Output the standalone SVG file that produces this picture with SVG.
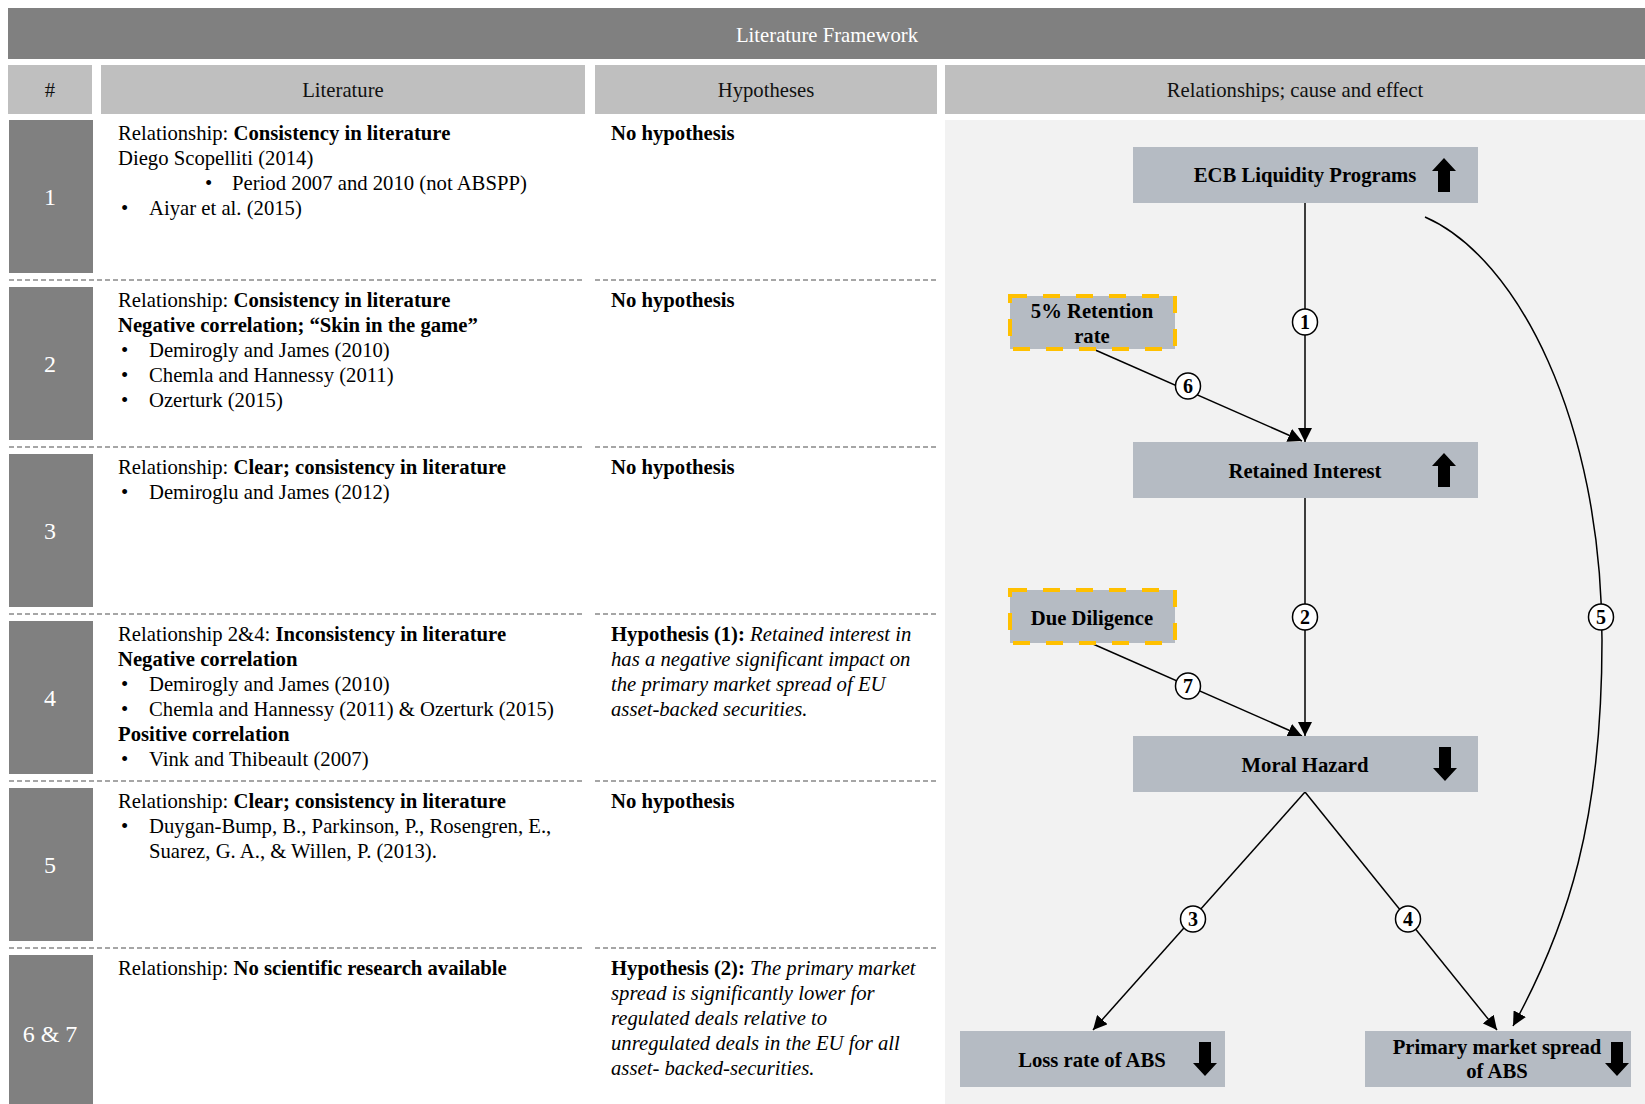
<svg xmlns="http://www.w3.org/2000/svg" width="1645" height="1104" viewBox="0 0 1645 1104">
<style>
  text { font-family: "Liberation Serif", "Times New Roman", serif; font-size: 20.7px; fill: #000; }
  .b { font-weight: bold; }
  .i { font-style: italic; }
  .title { fill: #ffffff; text-anchor: middle; }
  .hdr { text-anchor: middle; fill: #111; }
  .num { fill: #ffffff; text-anchor: middle; font-size: 24px; }
  .hcell { fill: #bfbfbf; }
  .ncell { fill: #808080; }
  .sep { stroke: #a6a6a6; stroke-width: 2; stroke-dasharray: 5 3; fill: none; }
  .node { fill: #b5bbc3; }
  .dashed { fill: #b5bbc3; stroke: #ffc000; stroke-width: 4; stroke-dasharray: 17 16; }
  .ntext { font-weight: bold; text-anchor: middle; }
  .conn { stroke: #000; stroke-width: 1.5; fill: none; }
  .lab { fill: #fff; stroke: #000; stroke-width: 1.5; }
  .labt { font-weight: bold; font-size: 20px; text-anchor: middle; }
</style>
<defs>
  <marker id="ah" markerUnits="userSpaceOnUse" markerWidth="14" markerHeight="14" viewBox="0 0 10 10" refX="10" refY="5" orient="auto">
    <path d="M0,0 L10,5 L0,10 Z" fill="#000"/>
  </marker>
  <path id="up" d="M0,0 L12,13 L6,13 L6,34 L-6,34 L-6,13 L-12,13 Z" fill="#000"/>
  <path id="down" d="M-6,0 L6,0 L6,21 L12,21 L0,34 L-12,21 L-6,21 Z" fill="#000"/>
</defs>
<rect x="0" y="0" width="1645" height="1104" fill="#ffffff"/>

<!-- Title -->
<g id="title">
  <rect x="8" y="8" width="1637" height="51" fill="#808080"/>
  <text class="title" x="827" y="42">Literature Framework</text>
</g>

<!-- Header row -->
<g id="header">
  <rect class="hcell" x="8" y="65" width="84" height="49"/>
  <rect class="hcell" x="101" y="65" width="484" height="49"/>
  <rect class="hcell" x="595" y="65" width="342" height="49"/>
  <rect class="hcell" x="945" y="65" width="700" height="49"/>
  <text class="hdr" x="50" y="97">#</text>
  <text class="hdr" x="343" y="97">Literature</text>
  <text class="hdr" x="766" y="97">Hypotheses</text>
  <text class="hdr" x="1295" y="97">Relationships; cause and effect</text>
</g>

<!-- Right panel background -->
<rect x="945" y="120" width="700" height="984" fill="#f2f2f2"/>

<!-- Number cells -->
<g id="numbers">
  <rect class="ncell" x="9" y="120" width="84" height="153"/>
  <rect class="ncell" x="9" y="287" width="84" height="153"/>
  <rect class="ncell" x="9" y="454" width="84" height="153"/>
  <rect class="ncell" x="9" y="621" width="84" height="153"/>
  <rect class="ncell" x="9" y="788" width="84" height="153"/>
  <rect class="ncell" x="9" y="955" width="84" height="149"/>
  <text class="num" x="50" y="205">1</text>
  <text class="num" x="50" y="372">2</text>
  <text class="num" x="50" y="539">3</text>
  <text class="num" x="50" y="706">4</text>
  <text class="num" x="50" y="873">5</text>
  <text class="num" x="50" y="1042">6 &amp; 7</text>
</g>

<!-- Separators -->
<g id="separators">
  <path class="sep" d="M9,280 H585 M595,280 H937 M9,447 H585 M595,447 H937 M9,614 H585 M595,614 H937 M9,781 H585 M595,781 H937 M9,948 H585 M595,948 H937"/>
</g>

<!-- Row 1 -->
<g id="row1">
  <text x="118" y="140">Relationship: <tspan class="b">Consistency in literature</tspan></text>
  <text x="118" y="165">Diego Scopelliti (2014)</text>
  <text x="205" y="190">•</text><text x="232" y="190">Period 2007 and 2010 (not ABSPP)</text>
  <text x="121" y="215">•</text><text x="149" y="215">Aiyar et al. (2015)</text>
  <text class="b" x="611" y="140">No hypothesis</text>
</g>

<!-- Row 2 -->
<g id="row2">
  <text x="118" y="307">Relationship: <tspan class="b">Consistency in literature</tspan></text>
  <text class="b" x="118" y="332">Negative correlation; “Skin in the game”</text>
  <text x="121" y="357">•</text><text x="149" y="357">Demirogly and James (2010)</text>
  <text x="121" y="382">•</text><text x="149" y="382">Chemla and Hannessy (2011)</text>
  <text x="121" y="407">•</text><text x="149" y="407">Ozerturk (2015)</text>
  <text class="b" x="611" y="307">No hypothesis</text>
</g>

<!-- Row 3 -->
<g id="row3">
  <text x="118" y="474">Relationship: <tspan class="b">Clear; consistency in literature</tspan></text>
  <text x="121" y="499">•</text><text x="149" y="499">Demiroglu and James (2012)</text>
  <text class="b" x="611" y="474">No hypothesis</text>
</g>

<!-- Row 4 -->
<g id="row4">
  <text x="118" y="641">Relationship 2&amp;4: <tspan class="b">Inconsistency in literature</tspan></text>
  <text class="b" x="118" y="666">Negative correlation</text>
  <text x="121" y="691">•</text><text x="149" y="691">Demirogly and James (2010)</text>
  <text x="121" y="716">•</text><text x="149" y="716">Chemla and Hannessy (2011) &amp; Ozerturk (2015)</text>
  <text class="b" x="118" y="741">Positive correlation</text>
  <text x="121" y="766">•</text><text x="149" y="766">Vink and Thibeault (2007)</text>
  <text x="611" y="641"><tspan class="b">Hypothesis (1):</tspan> <tspan class="i">Retained interest in</tspan></text>
  <text class="i" x="611" y="666">has a negative significant impact on</text>
  <text class="i" x="611" y="691">the primary market spread of EU</text>
  <text class="i" x="611" y="716">asset-backed securities.</text>
</g>

<!-- Row 5 -->
<g id="row5">
  <text x="118" y="808">Relationship: <tspan class="b">Clear; consistency in literature</tspan></text>
  <text x="121" y="833">•</text><text x="149" y="833">Duygan-Bump, B., Parkinson, P., Rosengren, E.,</text>
  <text x="149" y="858">Suarez, G. A., &amp; Willen, P. (2013).</text>
  <text class="b" x="611" y="808">No hypothesis</text>
</g>

<!-- Row 6 -->
<g id="row6">
  <text x="118" y="975">Relationship: <tspan class="b">No scientific research available</tspan></text>
  <text x="611" y="975"><tspan class="b">Hypothesis (2):</tspan> <tspan class="i">The primary market</tspan></text>
  <text class="i" x="611" y="1000">spread is significantly lower for</text>
  <text class="i" x="611" y="1025">regulated deals relative to</text>
  <text class="i" x="611" y="1050">unregulated deals in the EU for all</text>
  <text class="i" x="611" y="1075">asset- backed-securities.</text>
</g>

<!-- Connectors -->
<g id="connectors">
  <path class="conn" d="M1305,203 L1305,442" marker-end="url(#ah)"/>
  <path class="conn" d="M1305,498 L1305,736" marker-end="url(#ah)"/>
  <path class="conn" d="M1093,349 L1302,441" marker-end="url(#ah)"/>
  <path class="conn" d="M1093,644 L1302,736" marker-end="url(#ah)"/>
  <path class="conn" d="M1305,792 L1093,1030" marker-end="url(#ah)"/>
  <path class="conn" d="M1305,792 L1497,1030" marker-end="url(#ah)"/>
  <path class="conn" d="M1425,217 C1517,257 1602,420 1602,640 C1602,820 1568,926 1513,1026" marker-end="url(#ah)"/>
  <ellipse class="lab" cx="1305" cy="322" rx="12.5" ry="13"/><text class="labt" x="1305" y="329">1</text>
  <ellipse class="lab" cx="1305" cy="617" rx="12.5" ry="13"/><text class="labt" x="1305" y="624">2</text>
  <ellipse class="lab" cx="1193" cy="919" rx="12.5" ry="13"/><text class="labt" x="1193" y="926">3</text>
  <ellipse class="lab" cx="1408" cy="919" rx="12.5" ry="13"/><text class="labt" x="1408" y="926">4</text>
  <ellipse class="lab" cx="1601" cy="617" rx="12.5" ry="13"/><text class="labt" x="1601" y="624">5</text>
  <ellipse class="lab" cx="1188" cy="386" rx="12.5" ry="13"/><text class="labt" x="1188" y="393">6</text>
  <ellipse class="lab" cx="1188" cy="686" rx="12.5" ry="13"/><text class="labt" x="1188" y="693">7</text>
</g>

<!-- Nodes -->
<g id="node-ecb">
  <rect class="node" x="1133" y="147" width="345" height="56"/>
  <text class="ntext" x="1305" y="182">ECB Liquidity Programs</text>
  <use href="#up" x="1444" y="158"/>
</g>
<g id="node-retained">
  <rect class="node" x="1133" y="442" width="345" height="56"/>
  <text class="ntext" x="1305" y="478">Retained Interest</text>
  <use href="#up" x="1444" y="453"/>
</g>
<g id="node-retention">
  <rect class="dashed" x="1010" y="296" width="165" height="53"/>
  <text class="ntext" x="1092" y="318">5% Retention</text>
  <text class="ntext" x="1092" y="343">rate</text>
</g>
<g id="node-due">
  <rect class="dashed" x="1010" y="590" width="165" height="53"/>
  <text class="ntext" x="1092" y="625">Due Diligence</text>
</g>
<g id="node-moral">
  <rect class="node" x="1133" y="736" width="345" height="56"/>
  <text class="ntext" x="1305" y="772">Moral Hazard</text>
  <use href="#down" x="1445" y="747"/>
</g>
<g id="node-loss">
  <rect class="node" x="960" y="1031" width="265" height="56"/>
  <text class="ntext" x="1092" y="1067">Loss rate of ABS</text>
  <use href="#down" x="1205" y="1042"/>
</g>
<g id="node-spread">
  <rect class="node" x="1365" y="1031" width="266" height="56"/>
  <text class="ntext" x="1497" y="1054">Primary market spread</text>
  <text class="ntext" x="1497" y="1078">of ABS</text>
  <use href="#down" x="1617" y="1042"/>
</g>
</svg>
